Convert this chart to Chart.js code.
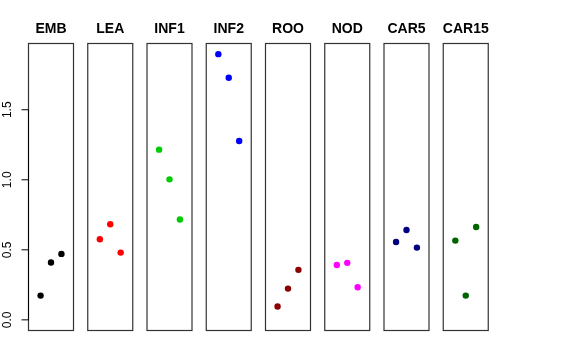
<!DOCTYPE html>
<html>
<head>
<meta charset="utf-8">
<script src="https://cdn.jsdelivr.net/npm/chart.js@4/dist/chart.umd.min.js"></script>
<style>
body { margin: 0; background: #fff; }
#wrap { position: relative; width: 576px; height: 360px; }
#wrap canvas { position: absolute; left: 0; top: 0; }
</style>
</head>
<body>
<div id="wrap"></div>
<script>
// data
var groups = ['EMB', 'LEA', 'INF1', 'INF2', 'ROO', 'NOD', 'CAR5', 'CAR15'];
var xs = [1, 2, 3];
var emb = [0.173, 0.409, 0.471];
var lea = [0.576, 0.683, 0.480];
var inf1 = [1.215, 1.003, 0.716];
var inf2 = [1.897, 1.728, 1.277];
var roo = [0.095, 0.223, 0.357];
var nod = [0.392, 0.407, 0.233];
var car5 = [0.556, 0.642, 0.516];
var car15 = [0.566, 0.173, 0.663];
var yTicks = [0, 0.5, 1, 1.5];
var tickLabels = ['0.0', '0.5', '1.0', '1.5'];

var series = [emb, lea, inf1, inf2, roo, nod, car5, car15];
var colors = ['#000000', '#FF0000', '#00CD00', '#0000FF', '#8B0000', '#FF00FF', '#000080', '#006400'];

var frame = {
    id: 'frame',
    afterDraw: function(chart, args, opts) {
        var a = chart.chartArea, c = chart.ctx;
        c.save();
        c.strokeStyle = '#333';
        c.lineWidth = 1.2;
        c.strokeRect(a.left, a.top, a.right - a.left, a.bottom - a.top);
        c.fillStyle = '#000';
        c.font = 'bold 14px "Liberation Sans", Arial, sans-serif';
        c.textAlign = 'center';
        c.textBaseline = 'middle';
        c.fillText(opts.label, (a.left + a.right) / 2, 29);
        c.restore();
    }
};

// R style left axis, only on the first panel
var leftAxis = {
    id: 'leftAxis',
    afterDraw: function(chart, args, opts) {
        if (!opts.show) return;
        var y = chart.scales.y, c = chart.ctx, x0 = chart.chartArea.left;
        c.save();
        c.strokeStyle = '#000';
        c.lineWidth = 1;
        c.beginPath();
        c.moveTo(x0, y.getPixelForValue(yTicks[0]));
        c.lineTo(x0, y.getPixelForValue(yTicks[yTicks.length - 1]));
        yTicks.forEach(function(t) {
            c.moveTo(x0, y.getPixelForValue(t));
            c.lineTo(x0 - 7, y.getPixelForValue(t));
        });
        c.stroke();
        c.fillStyle = '#000';
        c.font = '12px "Liberation Sans", Arial, sans-serif';
        c.textAlign = 'center';
        c.textBaseline = 'middle';
        yTicks.forEach(function(t, i) {
            c.save();
            c.translate(8, y.getPixelForValue(t));
            c.rotate(-Math.PI / 2);
            c.fillText(tickLabels[i], 0, 0);
            c.restore();
        });
        c.restore();
    }
};

var wrap = document.getElementById('wrap');

groups.forEach(function(name, i) {
    var cv = document.createElement('canvas');
    cv.width = 576;
    cv.height = 360;
    wrap.appendChild(cv);
    var left = 28.5 + i * 59.25;
    var right = 576 - (left + 45);
    new Chart(cv.getContext('2d'), {
        type: 'scatter',
        data: {
            datasets: [{
                data: xs.map(function(x, k) { return {x: x, y: series[i][k]}; }),
                backgroundColor: colors[i],
                borderWidth: 0,
                pointRadius: 3.2
            }]
        },
        options: {
            responsive: false,
            animation: false,
            events: [],
            layout: {
                padding: {left: left, right: right, top: 43.5, bottom: 29.5}
            },
            scales: {
                x: {type: 'linear', min: -0.16, max: 4.16, display: false},
                y: {type: 'linear', min: -0.076, max: 1.973, display: false}
            },
            plugins: {
                legend: {display: false},
                tooltip: {enabled: false},
                frame: {label: name},
                leftAxis: {show: i === 0}
            }
        },
        plugins: [frame, leftAxis]
    });
});
</script>
</body>
</html>
